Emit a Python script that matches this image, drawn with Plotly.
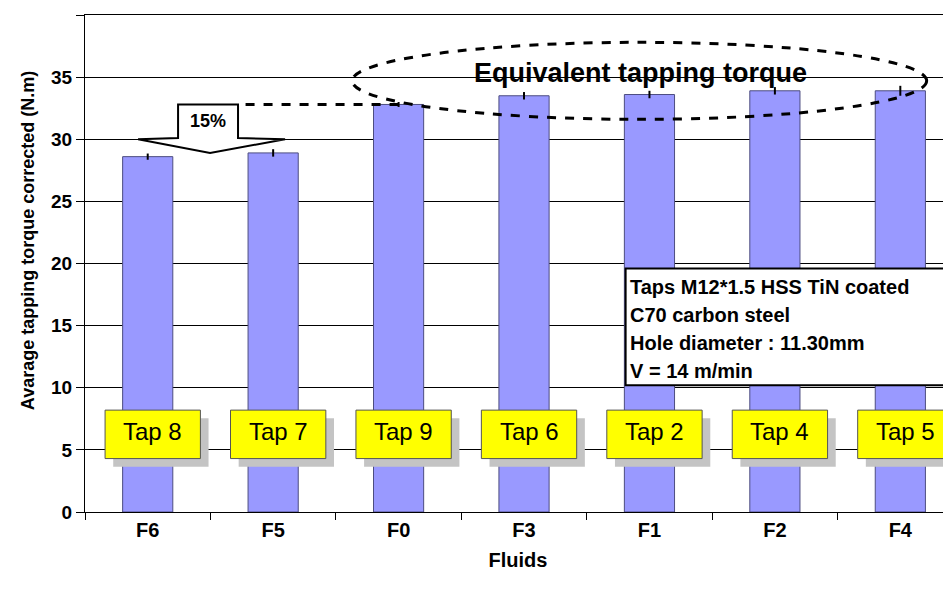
import plotly.graph_objects as go

fluids = ["F6", "F5", "F0", "F3", "F1", "F2", "F4"]
torque = [28.6, 28.9, 32.8, 33.5, 33.6, 33.9, 33.9]
torque_err = [0.25, 0.3, 0.2, 0.3, 0.3, 0.3, 0.4]
taps = ["Tap 8", "Tap 7", "Tap 9", "Tap 6", "Tap 2", "Tap 4", "Tap 5"]
info_lines = ["Taps M12*1.5 HSS TiN coated", "C70 carbon steel",
              "Hole diameter : 11.30mm", "V = 14 m/min"]
y_ticks = [0, 5, 10, 15, 20, 25, 30, 35, 40]

FONT = "Liberation Sans, Arial, sans-serif"
NARROW = "Liberation Sans Narrow, Arial Narrow, Liberation Sans, sans-serif"

fig = go.Figure()
fig.add_trace(go.Bar(
    x=fluids, y=torque, width=0.4,
    marker=dict(color="#9999FF", line=dict(color="#4D4D80", width=1)),
    error_y=dict(type="data", array=torque_err, color="black", thickness=2, width=0),
))

shapes = []
annotations = []
# Tap label boxes with shadow
for i, t in enumerate(taps):
    cx = i + 0.04
    shapes.append(dict(type="rect", xref="x", yref="y", x0=cx - 0.38 + 0.065, x1=cx + 0.38 + 0.065,
                       y0=4.3 - 0.65, y1=8.2 - 0.65, fillcolor="#C4C4C4", line=dict(width=0)))
    shapes.append(dict(type="rect", xref="x", yref="y", x0=cx - 0.38, x1=cx + 0.38,
                       y0=4.3, y1=8.2, fillcolor="#FFFF00", line=dict(color="#555555", width=1)))
    annotations.append(dict(x=cx, y=6.5, xref="x", yref="y", text=t, showarrow=False,
                            font=dict(family=FONT, size=24, color="black")))

# Info box
shapes.append(dict(type="rect", xref="x", yref="y", x0=3.81, x1=6.8, y0=10.2, y1=19.6,
                   fillcolor="white", line=dict(color="black", width=2)))
for k, line in enumerate(info_lines):
    annotations.append(dict(x=3.83, y=18.1 - k * 2.25, xref="x", yref="y", text=line,
                            showarrow=False, xanchor="left",
                            font=dict(family=FONT, size=20, color="black", weight="bold")))

# 15% arrow
arrow_path = ("M 0.242 32.8 L 0.72 32.8 L 0.72 30.1 L 1.095 30.0 L 0.497 28.9 "
              "L -0.077 30.0 L 0.242 30.1 Z")
shapes.append(dict(type="path", xref="x", yref="y", path=arrow_path,
                   fillcolor="white", line=dict(color="black", width=2)))
annotations.append(dict(x=0.48, y=31.5, xref="x", yref="y", text="15%", showarrow=False,
                        font=dict(family=FONT, size=18, color="black", weight="bold")))
# dashed connector
shapes.append(dict(type="line", xref="x", yref="y", x0=0.78, x1=2.0, y0=32.8, y1=32.8,
                   line=dict(color="black", width=3, dash="dash")))
# ellipse
shapes.append(dict(type="circle", xref="x", yref="y", x0=1.63, x1=6.21, y0=31.6, y1=37.8,
                   line=dict(color="black", width=3, dash="dash")))
annotations.append(dict(x=3.93, y=35.3, xref="x", yref="y", text="Equivalent tapping torque",
                        showarrow=False, font=dict(family=FONT, size=27, color="black", weight="bold")))

# y-axis title placed as annotation
annotations.append(dict(xref="paper", yref="paper", x=0, y=0.545, xshift=-69, textangle=-90,
                        text="Avarage tapping torque corrected (N.m)", showarrow=False,
                        font=dict(family=FONT, size=18, color="black", weight="bold")))

fig.update_layout(
    width=943, height=586,
    margin=dict(l=77, r=0, t=7, b=82),
    paper_bgcolor="white", plot_bgcolor="white",
    showlegend=False,
    shapes=shapes, annotations=annotations,
    font=dict(family=FONT, color="black"),
    xaxis=dict(range=[-0.5, 6.404], tickson="boundaries", ticks="outside", ticklen=7,
               tickcolor="black", showline=True, linecolor="black", linewidth=1, mirror=True,
               tickfont=dict(family=NARROW, size=20, color="black", weight="bold"),
               title=dict(text="Fluids", font=dict(family=NARROW, size=20, weight="bold"), standoff=12)),
    yaxis=dict(range=[0, 40], tickvals=y_ticks, ticks="outside", ticklen=8, tickcolor="black",
               showline=True, linecolor="black", linewidth=1,
               showgrid=True, gridcolor="black", gridwidth=1, zeroline=False,
               tickfont=dict(family=FONT, size=19, color="black", weight="bold")),
)

fig.write_html("out.html")
